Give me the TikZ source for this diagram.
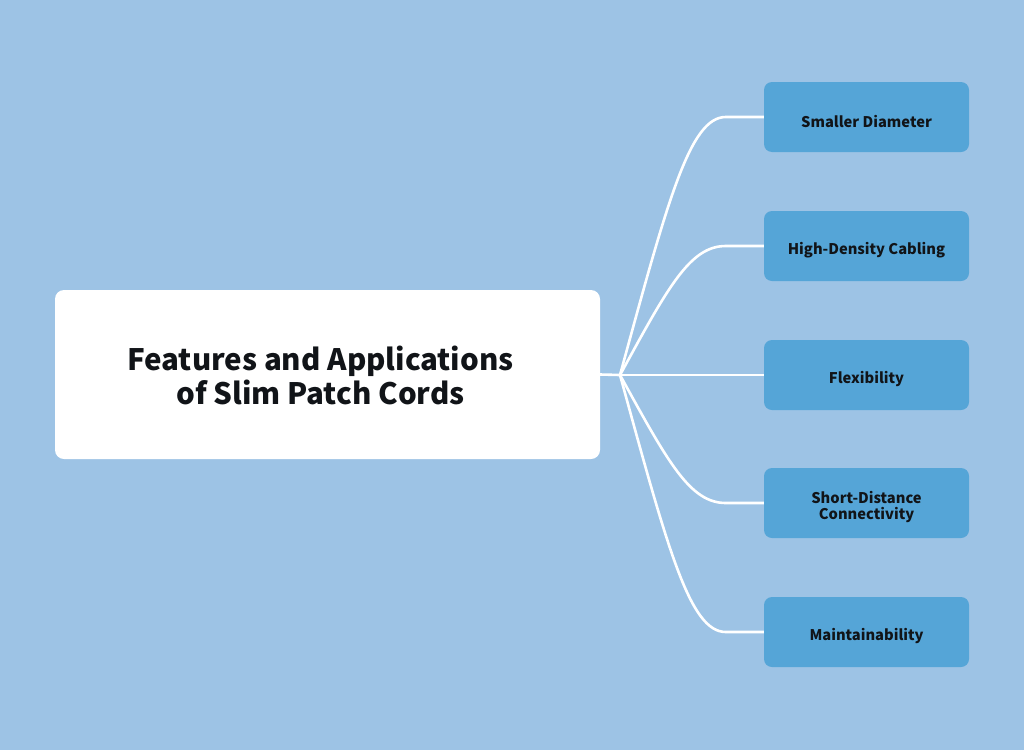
\documentclass[tikz,border=0pt]{standalone}
\usepackage{fontspec}
\setmainfont{Noto Sans CJK SC}
\usepackage{xcolor}
\definecolor{bgblue}{HTML}{9DC3E5}
\definecolor{boxblue}{HTML}{55A5D7}
\definecolor{inkdark}{HTML}{111418}

\tikzset{
    mainbox/.style={fill=white, rounded corners=9pt, minimum width=545pt, minimum height=169pt, inner sep=0pt},
    leafbox/.style={fill=boxblue, rounded corners=8pt, minimum width=205pt, minimum height=70pt, inner sep=0pt},
    titletext/.style={font=\fontsize{29.5}{34}\selectfont\bfseries, text=inkdark, align=center},
    leaftext/.style={font=\fontsize{14.7}{16.5}\selectfont\bfseries, text=inkdark, align=center},
    link/.style={draw=white, line width=2.6pt}
}

\begin{document}
\begin{tikzpicture}[x=1pt, y=-1pt]
            \fill[bgblue] (0,0) rectangle (1024,750);
            \node[mainbox] (main) at (327.5,374.5) {};
            \node[titletext] (title) at (320.5,375) {Features and Applications\\of Slim Patch Cords};
            \coordinate (hub) at (620,375);
            \foreach \n/\yc/\txt in {1/117/Smaller Diameter, 2/246/High-Density Cabling,
                    3/375/Flexibility, 4/503/{Short-Distance\\Connectivity}, 5/632/Maintainability} {
                \node[leafbox] (leaf\n) at (866.5,\yc) {};
                \node[leaftext] (lbl\n) at ([yshift=-4pt]leaf\n.center) {\txt};
                \pgfmathsetmacro{\dy}{0.68*(\yc-375)}
                \draw[link] (hub) .. controls +(48,\dy) and +(-36,0) .. ([xshift=-38pt]leaf\n.west) -- (leaf\n.west);
            }
            \draw[link] (main.east) -- (hub);
        \end{tikzpicture}
\end{document}
